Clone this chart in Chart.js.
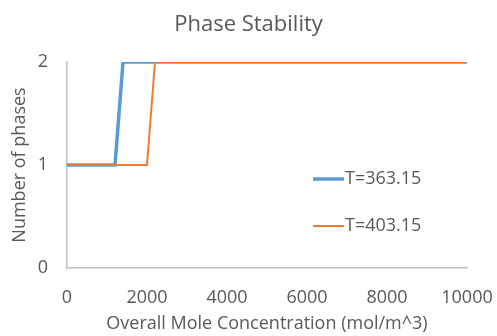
<!DOCTYPE html>
<html>
<head>
<meta charset="utf-8">
<title>Phase Stability</title>
<script src="https://cdn.jsdelivr.net/npm/chart.js@4/dist/chart.umd.min.js"></script>
<style>
  html, body { margin: 0; padding: 0; background: #ffffff; }
  #wrap { width: 497px; height: 336px; }
</style>
</head>
<body>
<div id="wrap"><canvas id="chart" width="497" height="336"></canvas></div>
<script>
// Overall mole concentration (mol/m^3) where the phase count was evaluated
const concLow  = [0, 1200, 1400, 10000];
const phasesLow = [1, 1, 2, 2];
const concHigh = [0, 2000, 2200, 10000];
const phasesHigh = [1, 1, 2, 2];

const seriesLabels = ['T=363.15', 'T=403.15'];
const xTicks = [0, 2000, 4000, 6000, 8000, 10000];
const yTicks = [0, 1, 2];

const FONT = '"Open Sans", Lato, sans-serif';
const TEXT = '#595959';
const AXIS = '#BFBFBF';
const BLUE = '#5B9BD5';
const ORANGE = '#ED7D31';

const toPoints = (xs, ys) => xs.map((x, i) => ({ x: x, y: ys[i] }));

// Legend drawn inside the plot area, right of centre
const insideLegend = {
  id: 'insideLegend',
  afterDatasetsDraw(chart) {
    const { ctx, chartArea } = chart;
    const w = chartArea.right - chartArea.left;
    const h = chartArea.bottom - chartArea.top;
    const x0 = chartArea.left + w * 0.615;
    const rows = [chartArea.top + h * 0.568, chartArea.top + h * 0.796];
    chart.data.datasets.forEach((ds, i) => {
      const y = rows[i];
      ctx.save();
      ctx.strokeStyle = ds.borderColor;
      ctx.lineWidth = ds.borderWidth;
      ctx.beginPath();
      ctx.moveTo(x0, y);
      ctx.lineTo(x0 + 31, y);
      ctx.stroke();
      ctx.fillStyle = TEXT;
      ctx.font = '18px ' + FONT;
      ctx.textBaseline = 'middle';
      ctx.textAlign = 'left';
      ctx.fillText(ds.label, x0 + 32, y);
      ctx.restore();
    });
  }
};

new Chart(document.getElementById('chart'), {
  type: 'scatter',
  data: {
    datasets: [
      {
        label: seriesLabels[0],
        data: toPoints(concLow, phasesLow),
        showLine: true,
        borderColor: BLUE,
        backgroundColor: BLUE,
        borderWidth: 3.5,
        pointRadius: 0,
        tension: 0,
        order: 1
      },
      {
        label: seriesLabels[1],
        data: toPoints(concHigh, phasesHigh),
        showLine: true,
        borderColor: ORANGE,
        backgroundColor: ORANGE,
        borderWidth: 2,
        pointRadius: 0,
        tension: 0,
        order: 0
      }
    ]
  },
  options: {
    responsive: false,
    animation: false,
    devicePixelRatio: 1,
    layout: { padding: 0 },
    plugins: {
      legend: { display: false },
      tooltip: { enabled: false },
      title: {
        display: true,
        text: 'Phase Stability',
        color: TEXT,
        font: { family: FONT, size: 22, weight: 'normal' },
        padding: { top: 12, bottom: 23.6 }
      }
    },
    scales: {
      x: {
        type: 'linear',
        min: xTicks[0],
        max: xTicks[xTicks.length - 1],
        afterBuildTicks(scale) { scale.ticks = xTicks.map(v => ({ value: v })); },
        afterFit(scale) { scale.height = 68; scale.paddingLeft = 0; scale.paddingRight = 30; },
        grid: { display: false, drawTicks: false },
        border: { display: true, color: AXIS, width: 1.5 },
        ticks: {
          color: TEXT, font: { family: FONT, size: 18 }, padding: 19, maxRotation: 0,
          callback: v => String(v)
        },
        title: {
          display: true,
          text: 'Overall Mole Concentration (mol/m^3)',
          color: TEXT,
          font: { family: FONT, size: 18 },
          padding: { top: 0, bottom: 1 }
        }
      },
      y: {
        type: 'linear',
        min: yTicks[0],
        max: yTicks[yTicks.length - 1],
        afterBuildTicks(scale) { scale.ticks = yTicks.map(v => ({ value: v })); },
        afterFit(scale) { scale.width = 67; },
        grid: { display: false, drawTicks: false },
        border: { display: true, color: AXIS, width: 1.5 },
        ticks: {
          color: TEXT, font: { family: FONT, size: 18 }, padding: 19,
          callback: v => String(v)
        },
        title: {
          display: true,
          text: 'Number of phases',
          color: TEXT,
          font: { family: FONT, size: 18 },
          padding: { top: 9, bottom: 0 }
        }
      }
    }
  },
  plugins: [insideLegend]
});
</script>
</body>
</html>
